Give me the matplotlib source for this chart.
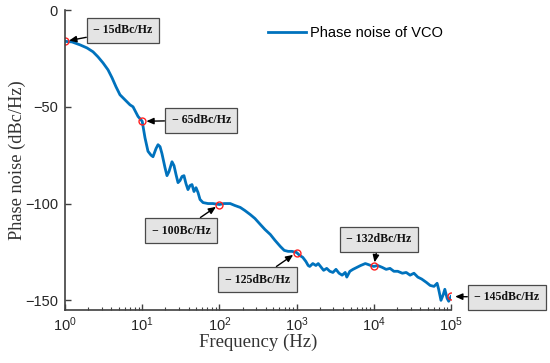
import matplotlib
matplotlib.use("Agg")
import matplotlib.pyplot as plt
from matplotlib.ticker import LogLocator, NullFormatter
import numpy as np

# Curve: log10(frequency in Hz) and phase noise (dBc/Hz)
log_freq = [0.0, 0.091, 0.194, 0.285, 0.363, 0.427, 0.492, 0.557, 0.609, 0.661,
            0.712, 0.777, 0.842, 0.881, 0.907, 0.946, 1.0, 1.036, 1.075, 1.114,
            1.140, 1.179, 1.205, 1.231, 1.256, 1.295, 1.321, 1.347, 1.386, 1.412,
            1.438, 1.464, 1.490, 1.516, 1.541, 1.567, 1.593, 1.619, 1.645, 1.671,
            1.697, 1.723, 1.749, 1.788, 1.852, 1.917, 2.0, 2.06, 2.14, 2.20,
            2.27, 2.33, 2.40, 2.46, 2.53, 2.59, 2.66, 2.72, 2.79, 2.84,
            2.89, 2.94, 3.0, 3.04, 3.08, 3.12, 3.15, 3.17, 3.21, 3.25,
            3.28, 3.32, 3.35, 3.39, 3.43, 3.47, 3.51, 3.55, 3.59, 3.63,
            3.65, 3.69, 3.73, 3.78, 3.83, 3.89, 3.92, 3.96, 4.0, 4.05,
            4.11, 4.16, 4.21, 4.26, 4.31, 4.37, 4.42, 4.47, 4.52, 4.57,
            4.62, 4.68, 4.73, 4.78, 4.82, 4.84, 4.87, 4.90, 4.92, 4.95,
            4.97, 5.0]
phase_noise = [-16.2, -16.5, -18, -19.6, -21.6, -24.2, -27.3, -30.9, -35, -39.7,
               -43.8, -46.4, -49, -50, -52, -55, -57.5, -66, -73, -75,
               -75.8, -71.6, -69.6, -70.6, -74.2, -81.4, -85.6, -83.5, -78.4, -80.4,
               -85, -89.2, -88.1, -86, -85.6, -89.7, -92.8, -90.7, -90.2, -93.8,
               -91.8, -94.3, -97.9, -99.5, -100, -100, -100.5, -100, -100, -101,
               -102, -103.6, -105.7, -107.7, -110.8, -113.4, -116, -119, -122.2, -124.2,
               -124.7, -124.7, -125.3, -126.8, -127.8, -129.9, -132, -132.5, -131, -132,
               -131, -133, -134.5, -133.5, -135, -135.6, -134, -136, -137, -135.6,
               -138, -135, -134, -133, -132, -131, -131.4, -132, -132.5, -132,
               -133, -134, -133.5, -135, -135, -136, -135.6, -137, -136, -138,
               -139, -140.7, -142.3, -142.8, -141.2, -144.3, -150, -147, -144.3, -149,
               -150.5, -148]

mark_freq = [1, 10, 100, 1000, 10000, 100000]
mark_val = [-16.2, -57.5, -100.5, -125.3, -132.5, -148]
mark_labels = ["− 15dBc/Hz", "− 65dBc/Hz", "− 100Bc/Hz",
               "− 125dBc/Hz", "− 132dBc/Hz", "− 145dBc/Hz"]
label_offsets = [(58, 11), (59, 1), (-38, -26), (-39, -27), (5, 27), (56, -1)]

freq = [10 ** e for e in log_freq]

fig = plt.figure(figsize=(5.5, 3.63), dpi=100)
ax = fig.add_axes([65/550, 1 - 310/363, (451-65)/550, (310-10)/363])

ax.plot(freq, phase_noise, color="#0072BD", lw=2, label="Phase noise of VCO")
ax.plot(mark_freq, mark_val, "o", ms=5, mfc="none", mec="#ff2020", mew=1.0)

for f, v, t, off in zip(mark_freq, mark_val, mark_labels, label_offsets):
    ax.annotate(t, xy=(f, v), xytext=off, textcoords="offset pixels",
                ha="center", va="center", fontsize=8.6, fontweight="bold",
                family="Liberation Serif", color="#111111",
                bbox=dict(boxstyle="square,pad=0.55", fc="#e4e4e4", ec="#4a4a4a", lw=0.9),
                arrowprops=dict(arrowstyle="-|>,head_length=0.5,head_width=0.22",
                                color="black", lw=1.0, shrinkA=0, shrinkB=3),
                annotation_clip=False)

ax.set_xscale("log")
ax.set_xlim(1, 1e5)
ax.set_ylim(-155, 0)
ax.set_yticks([0, -50, -100, -150])
ax.xaxis.set_major_locator(LogLocator(base=10, numticks=10))
ax.xaxis.set_minor_locator(LogLocator(base=10, subs=np.arange(2, 10), numticks=20))
ax.xaxis.set_minor_formatter(NullFormatter())

for s in ["top", "right"]:
    ax.spines[s].set_visible(False)
for s in ["left", "bottom"]:
    ax.spines[s].set_color("#404040")
    ax.spines[s].set_linewidth(1.2)

ax.tick_params(axis="both", which="major", direction="in", length=4, width=1,
               colors="#404040", labelcolor="#262626", labelsize=10.5)
ax.tick_params(axis="y", which="major", pad=5)
ax.tick_params(axis="x", which="major", pad=4)
ax.tick_params(axis="x", which="minor", direction="in", length=2, width=0.8,
               colors="#404040")
for lbl in ax.get_xticklabels() + ax.get_yticklabels():
    lbl.set_family("Liberation Sans")

ax.set_xlabel("Frequency (Hz)", family="Liberation Serif", fontsize=13.5,
              color="#333333", labelpad=0)
ax.set_ylabel("Phase noise (dBc/Hz)", family="Liberation Serif", fontsize=13.2,
              color="#333333", labelpad=-1)

leg = ax.legend(loc="upper left", bbox_to_anchor=(262/550, 1 - 20/363),
                bbox_transform=fig.transFigure, frameon=False,
                prop={"family": "Liberation Sans", "size": 10.5},
                handlelength=2.6, handletextpad=0.3, borderaxespad=0)

fig.savefig("out.png", dpi=100)
